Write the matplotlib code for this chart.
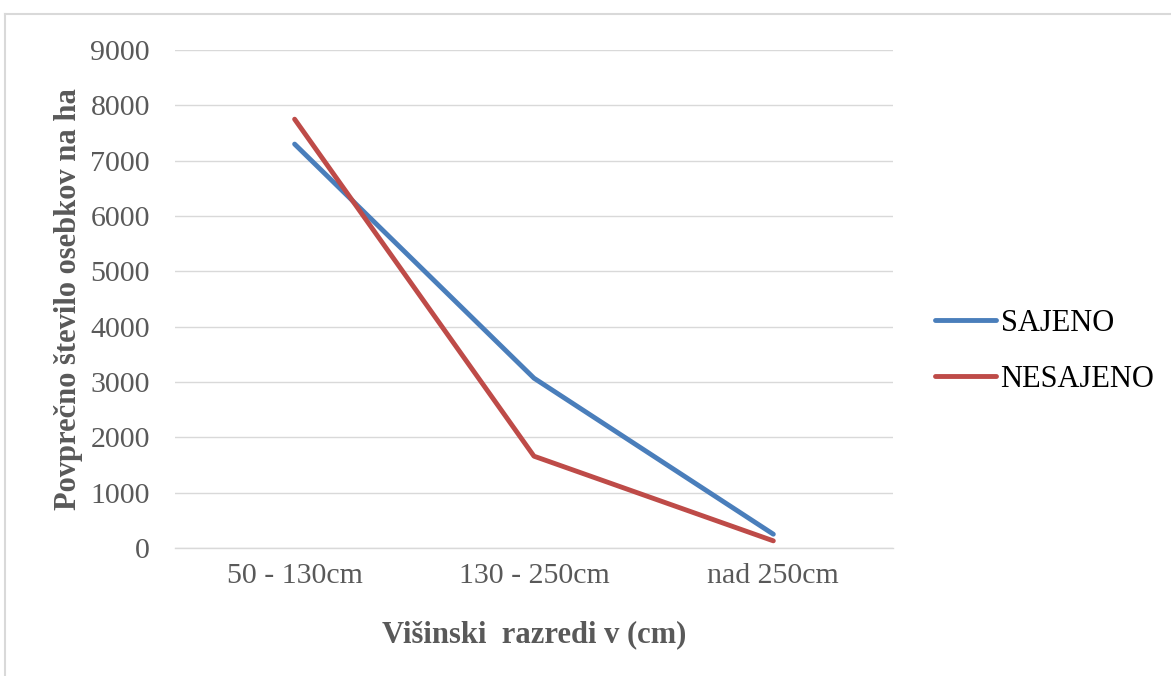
import matplotlib.pyplot as plt
from matplotlib.lines import Line2D

plt.rcParams['font.family'] = ['Liberation Serif', 'DejaVu Serif']

categories = ["50 - 130cm", "130 - 250cm", "nad 250cm"]
sajeno = [7300, 3070, 250]
nesajeno = [7750, 1660, 130]
y_ticks = list(range(0, 9001, 1000))

fig = plt.figure(figsize=(11.71, 6.76), dpi=100)
ax = fig.add_axes([0.1494, 0.1893, 0.6132, 0.7367])

x = list(range(len(categories)))
ax.plot(x, sajeno, color="#4A7EBB", lw=3.5, label="SAJENO", solid_capstyle="round")
ax.plot(x, nesajeno, color="#BE4B48", lw=3.5, label="NESAJENO", solid_capstyle="round")

ax.set_xlim(-0.5, len(categories) - 0.5)
ax.set_ylim(0, 9000)
ax.set_yticks(y_ticks)
ax.set_xticks(x)
ax.set_xticklabels(categories)
ax.grid(axis="y", color="#D9D9D9", lw=1)
ax.set_axisbelow(True)

for side in ("left", "right", "top"):
    ax.spines[side].set_visible(False)
ax.spines["bottom"].set_color("#D9D9D9")
ax.spines["bottom"].set_linewidth(1)

ax.tick_params(axis="both", length=0, labelsize=21.5, labelcolor="#595959")
ax.tick_params(axis="y", pad=18)
ax.tick_params(axis="x", pad=11)

ax.set_xlabel("Višinski  razredi v (cm)", fontsize=22, fontweight="bold",
              color="#595959", labelpad=22)
ax.set_ylabel("Povprečno število osebkov na ha", fontsize=22, fontweight="bold",
              color="#595959", labelpad=5)

ax.legend(loc="center left", bbox_to_anchor=(1.02, 0.395), frameon=False,
          fontsize=22, handlelength=2.0, handletextpad=0.15, labelspacing=0.88,
          labelcolor="#000000")

# chart frame
fig.add_artist(Line2D([0.004, 1.0], [0.979, 0.979], color="#D9D9D9", lw=1.5))
fig.add_artist(Line2D([0.004, 0.004], [0.0, 0.979], color="#D9D9D9", lw=1.5))

fig.savefig("out.png", dpi=100)
